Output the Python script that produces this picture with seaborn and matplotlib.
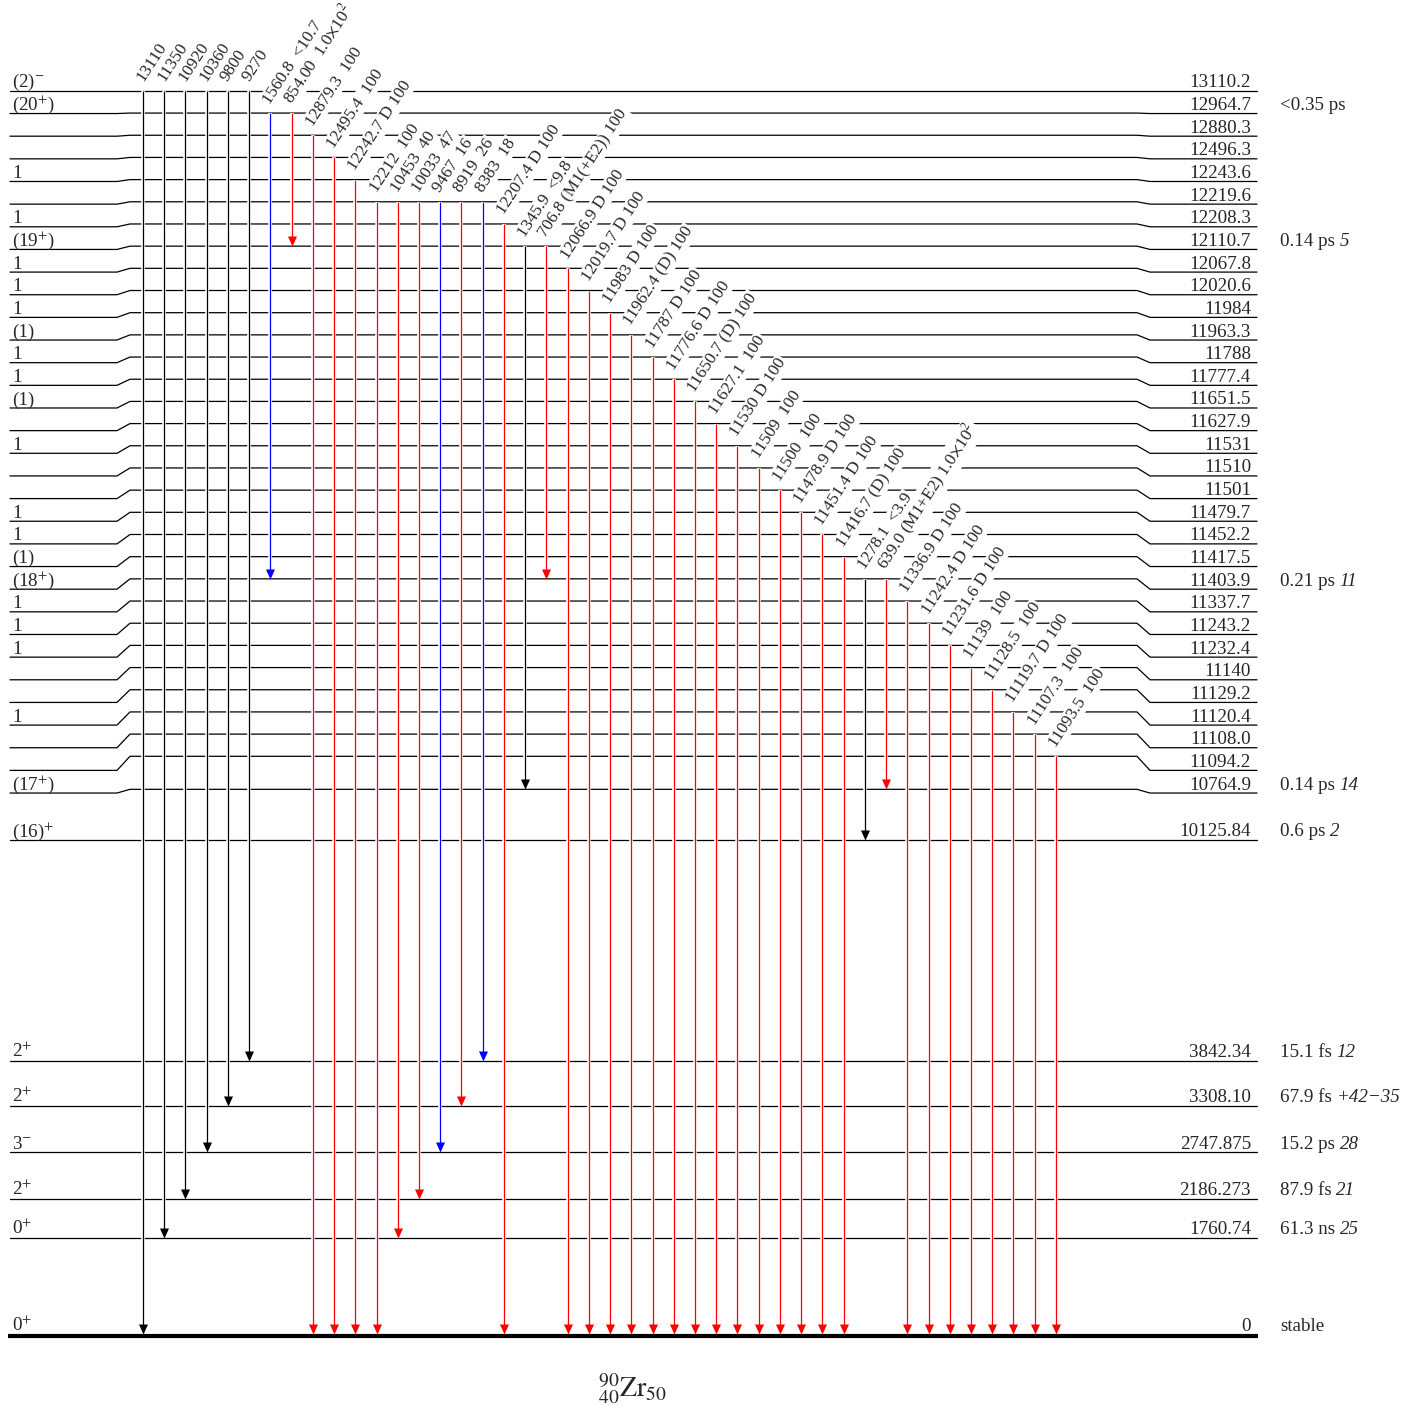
import numpy as np
import pandas as pd
import matplotlib
matplotlib.use("Agg")
import matplotlib.pyplot as plt
from matplotlib.path import Path
import seaborn as sns

# ---------------- data ----------------
level_energy = [13110.2, 12964.7, 12880.3, 12496.3, 12243.6, 12219.6, 12208.3, 12110.7,
                12067.8, 12020.6, 11984.0, 11963.3, 11788.0, 11777.4, 11651.5, 11627.9,
                11531.0, 11510.0, 11501.0, 11479.7, 11452.2, 11417.5, 11403.9, 11337.7,
                11243.2, 11232.4, 11140.0, 11129.2, 11120.4, 11108.0, 11094.2, 10764.9,
                10125.84, 3842.34, 3308.10, 2747.875, 2186.273, 1760.74, 0.0]
level_text = ["13110.2", "12964.7", "12880.3", "12496.3", "12243.6", "12219.6", "12208.3", "12110.7",
              "12067.8", "12020.6", "11984", "11963.3", "11788", "11777.4", "11651.5", "11627.9",
              "11531", "11510", "11501", "11479.7", "11452.2", "11417.5", "11403.9", "11337.7",
              "11243.2", "11232.4", "11140", "11129.2", "11120.4", "11108.0", "11094.2", "10764.9",
              "10125.84", "3842.34", "3308.10", "2747.875", "2186.273", "1760.74", "0"]
level_spin = [r"(2)$^{-}$", r"(20$^{+}$)", "", "", "1", "", "1", r"(19$^{+}$)",
              "1", "1", "1", "(1)", "1", "1", "(1)", "",
              "1", "", "", "1", "1", "(1)", r"(18$^{+}$)", "1",
              "1", "1", "", "", "1", "", "", r"(17$^{+}$)",
              r"(16)$^{+}$", r"2$^{+}$", r"2$^{+}$", r"3$^{-}$", r"2$^{+}$", r"0$^{+}$", r"0$^{+}$"]
level_halflife = ["", "<0.35 ps", "", "", "", "", "", "0.14 ps",
                  "", "", "", "", "", "", "", "",
                  "", "", "", "", "", "", "0.21 ps", "",
                  "", "", "", "", "", "", "", "0.14 ps",
                  "0.6 ps", "15.1 fs", "67.9 fs", "15.2 ps", "87.9 fs", "61.3 ns", "stable"]
level_halflife_unc = ["", "", "", "", "", "", "", "5",
                      "", "", "", "", "", "", "", "",
                      "", "", "", "", "", "", "11", "",
                      "", "", "", "", "", "", "", "14",
                      "2", "12", "+42\u221235", "28", "21", "25", ""]

gamma_energy = ["13110", "11350", "10920", "10360", "9800", "9270", "1560.8", "854.00",
                "12879.3", "12495.4", "12242.7", "12212", "10453", "10033", "9467", "8919",
                "8383", "12207.4", "1345.9", "706.8", "12066.9", "12019.7", "11983", "11962.4",
                "11787", "11776.6", "11650.7", "11627.1", "11530", "11509", "11500", "11478.9",
                "11451.4", "11416.7", "1278.1", "639.0", "11336.9", "11242.4", "11231.6", "11139",
                "11128.5", "11119.7", "11107.3", "11093.5"]
gamma_mult = ["", "", "", "", "", "", "", "",
              "", "", "D", "", "", "", "", "",
              "", "D", "", "(M1(+E2))", "D", "D", "D", "(D)",
              "D", "D", "(D)", "", "D", "", "", "D",
              "D", "(D)", "", "(M1+E2)", "D", "D", "D", "",
              "", "D", "", ""]
E2 = r"1.0$\times$10$^{2}$"
gamma_intensity = ["", "", "", "", "", "", "<10.7", E2,
                   "100", "100", "100", "100", "40", "47", "16", "26",
                   "18", "100", "<9.8", "100", "100", "100", "100", "100",
                   "100", "100", "100", "100", "100", "100", "100", "100",
                   "100", "100", "<3.9", E2, "100", "100", "100", "100",
                   "100", "100", "100", "100"]
gamma_from = [13110.2] * 6 + [12964.7] * 2 + [12880.3, 12496.3, 12243.6] + [12219.6] * 6 + \
             [12208.3] + [12110.7] * 2 + \
             [12067.8, 12020.6, 11984.0, 11963.3, 11788.0, 11777.4, 11651.5, 11627.9, 11531.0,
              11510.0, 11501.0, 11479.7, 11452.2, 11417.5] + [11403.9] * 2 + \
             [11337.7, 11243.2, 11232.4, 11140.0, 11129.2, 11120.4, 11108.0, 11094.2]
gamma_to = [0.0, 1760.74, 2186.273, 2747.875, 3308.10, 3842.34] + [11403.9, 12110.7] + \
           [0.0, 0.0, 0.0] + [0.0, 1760.74, 2186.273, 2747.875, 3308.10, 3842.34] + \
           [0.0] + [10764.9, 11403.9] + [0.0] * 14 + [10125.84, 10764.9] + [0.0] * 8
gamma_class = ["none"] * 6 + ["medium", "strong"] + ["strong"] * 3 + \
              ["strong", "strong", "strong", "medium", "strong", "medium"] + \
              ["strong", "none", "strong"] + ["strong"] * 14 + ["none", "strong"] + ["strong"] * 8
nucleus = r"$^{90}_{40}\mathrm{Zr}_{50}$"

# ---------------- layout / style ----------------
W, H = 1419, 1408
GROUND_Y = 1335
GAP_A, GAP_P = 0.79, 0.644
BAND_E = 11000
BAND_STEP = 22.18
LABEL_BAND_E = 10500
LABEL_STEP = 22.65
X_LEFT, X_KL0, X_KL1 = 10, 117, 130
X_KR0, X_KR1, X_RIGHT = 1137, 1150, 1257
COL_X0, COL_STEP = 143, 21.23
ROT = 57
LBL_DX, LBL_DY = 0.0, -8.5
FS_LEVEL = 13.7
FS_GAMMA = 12.4
class_color = {"strong": "#ff0000", "medium": "#0000ff", "none": "#000000"}

sns.set_theme(style="white")
plt.rcParams["font.family"] = ["Liberation Serif", "DejaVu Serif"]
plt.rcParams["mathtext.fontset"] = "stix"

# vertical positions of levels
E = np.array(level_energy)
mid = {}
prev = None
for idx in np.argsort(E):
    e = E[idx]
    if prev is None:
        y = GROUND_Y
    else:
        pe, py = prev
        gap = BAND_STEP if (e > BAND_E and pe > BAND_E) else GAP_A * (e - pe) ** GAP_P
        y = py - gap
    mid[float(e)] = y
    prev = (e, y)
lab = dict(mid)
top = [float(e) for e in sorted(E, reverse=True) if e > LABEL_BAND_E]
for r, e in enumerate(top):
    lab[e] = mid[top[0]] + r * LABEL_STEP

fig = plt.figure(figsize=(W / 100, H / 100), dpi=100)
ax = fig.add_axes([0, 0, 1, 1])
ax.set_xlim(0, W)
ax.set_ylim(H, 0)

# level lines via seaborn
rows = []
for e in level_energy:
    if e == 0.0:
        continue
    if e in top:
        pts = [(X_LEFT, lab[e]), (X_KL0, lab[e]), (X_KL1, mid[e]), (X_KR0, mid[e]),
               (X_KR1, lab[e]), (X_RIGHT, lab[e])]
    else:
        pts = [(X_LEFT, mid[e]), (X_RIGHT, mid[e])]
    for k, (x, y) in enumerate(pts):
        rows.append({"level": str(e), "order": k, "x": x, "y": y})
df_levels = pd.DataFrame(rows)
sns.lineplot(data=df_levels, x="x", y="y", units="level", estimator=None, sort=False,
             color="black", lw=0.9, ax=ax, legend=False, zorder=1)
ax.plot([8, 1258], [GROUND_Y + 0.5, GROUND_Y + 0.5], color="black", lw=3.0,
        solid_capstyle="butt", zorder=1)

# level texts
for e, t, s, h, hu in zip(level_energy, level_text, level_spin, level_halflife,
                          level_halflife_unc):
    yl = lab[e] - 3.5 if e != 0.0 else GROUND_Y - 4
    ax.text(X_RIGHT - 6, yl, t, ha="right", va="baseline", fontsize=FS_LEVEL, zorder=6)
    if s:
        ax.text(12, yl, s, ha="left", va="baseline", fontsize=FS_LEVEL, zorder=6)
    if h:
        th = ax.text(1280, yl, h, ha="left", va="baseline", fontsize=FS_LEVEL, zorder=6)
        if hu:
            ax.annotate(hu, xy=(1, 0), xycoords=th, xytext=(3.4, 0),
                        textcoords="offset points", ha="left", va="bottom",
                        fontsize=FS_LEVEL, fontstyle="italic", zorder=6)

# transitions
tri = Path([(-0.45, 0.5), (0.45, 0.5), (0.0, -0.5), (-0.45, 0.5)],
           [Path.MOVETO, Path.LINETO, Path.LINETO, Path.CLOSEPOLY])
HEAD = 10
for i, (ge, gm, gi, ef, et, gc) in enumerate(zip(gamma_energy, gamma_mult, gamma_intensity,
                                                  gamma_from, gamma_to, gamma_class)):
    x = COL_X0 + i * COL_STEP
    y0 = mid[ef]
    y1 = mid[et] if et != 0.0 else GROUND_Y - 1.5
    col = class_color[gc]
    ax.plot([x, x], [y0, y1 - HEAD + 1], color="white", lw=2.6, zorder=3,
            solid_capstyle="butt")
    ax.plot([x, x], [y0, y1 - HEAD + 1], color=col, lw=0.9, zorder=4,
            solid_capstyle="butt")
    ax.plot([x], [y1 - HEAD / 2], marker=tri, markersize=HEAD * 0.72, color=col,
            markeredgewidth=0, linestyle="none", zorder=5)
    parts = [ge] + [p for p in (gm, gi) if p]
    txt = (" " if gm else "  ").join(parts)
    ax.text(x + LBL_DX, y0 + LBL_DY, txt, rotation=ROT, rotation_mode="anchor", ha="left",
            va="baseline", fontsize=FS_GAMMA, zorder=2,
            bbox=dict(boxstyle="square,pad=0.08", fc="white", ec="none"))

ax.text(632, 1397, nucleus, ha="center", va="baseline", fontsize=20)

ax.axis("off")
fig.savefig("out.png", dpi=100, facecolor="white")
